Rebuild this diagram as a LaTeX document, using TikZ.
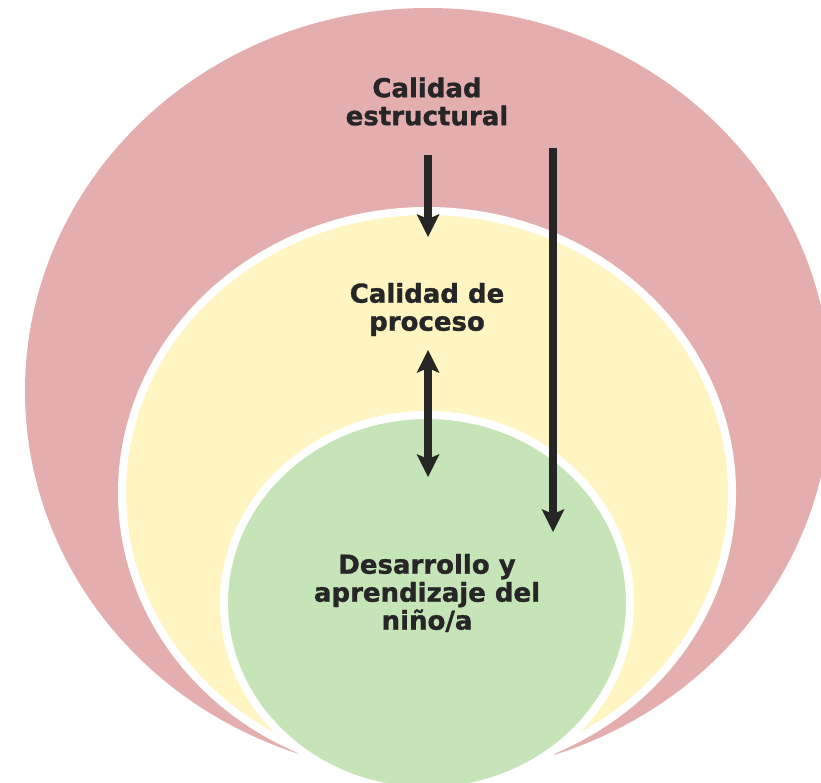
\documentclass[tikz,border=0pt]{standalone}
\usepackage{fontspec}
\setmainfont{DejaVu Sans}[BoldFeatures={FakeBold=1.2}]
\usetikzlibrary{arrows.meta}
\definecolor{pinkfill}{HTML}{E4AEAE}
\definecolor{yellowfill}{HTML}{FFF5C2}
\definecolor{greenfill}{HTML}{C5E4B7}
\definecolor{darktxt}{HTML}{262626}
\begin{document}
\begin{tikzpicture}[x=1pt,y=-1pt,
  lbl/.style={font=\bfseries\fontsize{26}{28}\selectfont, text=darktxt, align=center, inner sep=0pt},
  ring/.style={draw=white, line width=8pt},
  arr/.style={draw=darktxt, line width=8pt, -{Stealth[length=23pt,width=23pt,inset=5pt,line width=0pt]}},
  darr/.style={draw=darktxt, line width=8pt, {Stealth[length=23pt,width=23pt,inset=5pt,line width=0pt]}-{Stealth[length=23pt,width=23pt,inset=5pt,line width=0pt]}}]
\useasboundingbox (0,0) rectangle (821,783);
\clip (0,0) rectangle (821,783);
% nested shapes
\fill[pinkfill] (428,391) ellipse [x radius=403pt, y radius=383pt];
\path[ring, fill=yellowfill] (427,493) ellipse [x radius=305pt, y radius=282pt];
\path[ring, fill=greenfill] (427,603) ellipse [x radius=203pt, y radius=188pt];
% labels
\node[lbl] (estr) at (427,101.5) {Calidad\\estructural};
\node[lbl] (proc) at (427,309.5) {Calidad de\\proceso};
\node[lbl] (desa) at (427,593) {Desarrollo y\\aprendizaje del\\niño/a};
% arrow end points
\coordinate (a1s) at (428,155);
\coordinate (a1e) at (428,237);
\coordinate (a2s) at (428,350);
\coordinate (a2e) at (428,477);
\coordinate (a3s) at (553,148);
\coordinate (a3e) at (553,532);
\draw[arr] (a1s) -- (a1e);
\draw[darr] (a2s) -- (a2e);
\draw[arr] (a3s) -- (a3e);
\end{tikzpicture}
\end{document}
